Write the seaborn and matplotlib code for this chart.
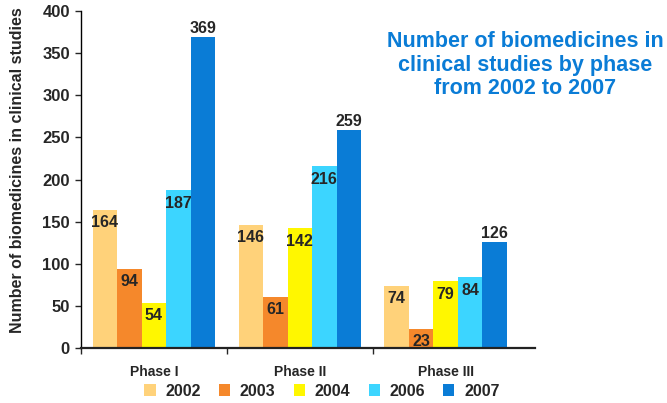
import seaborn as sns
import pandas as pd
import matplotlib.pyplot as plt

phases = ['Phase I', 'Phase II', 'Phase III']
years = ['2002', '2003', '2004', '2006', '2007']
v2002 = [164, 146, 74]
v2003 = [94, 61, 23]
v2004 = [54, 142, 79]
v2006 = [187, 216, 84]
v2007 = [369, 259, 126]
colors = ['#FFD27A', '#F5882B', '#FFF700', '#3CD5FF', '#0A7CD6']

rows = []
for yr, vals in zip(years, [v2002, v2003, v2004, v2006, v2007]):
    for ph, v in zip(phases, vals):
        rows.append({'phase': ph, 'year': yr, 'count': v})
df = pd.DataFrame(rows)

sns.set_style('white')
plt.rcParams['font.family'] = ['Liberation Sans', 'DejaVu Sans']
plt.rcParams['font.weight'] = 'bold'

fig = plt.figure(figsize=(6.67, 4.03), dpi=100)
ax = fig.add_axes([81/667, 1-348/403, 454/667, 337/403])

sns.barplot(data=df, x='phase', y='count', hue='year', order=phases, hue_order=years,
            palette=colors, width=0.84, gap=0, saturation=1, linewidth=0, ax=ax)

# value labels: 2007 above the bar, others just inside the top
for i, cont in enumerate(ax.containers):
    for bar in cont:
        h = bar.get_height()
        x = bar.get_x() + bar.get_width()/2
        if years[i] == '2007':
            ax.annotate(f'{int(h)}', (x, h), xytext=(0, 1), textcoords='offset pixels',
                        ha='center', va='bottom', fontsize=11.5, fontweight='bold')
        else:
            ax.annotate(f'{int(h)}', (x, h), xytext=(0, -13), textcoords='offset pixels',
                        ha='center', va='center', fontsize=11.5, fontweight='bold')

ax.set_ylim(0, 400)
ax.set_yticks(range(0, 401, 50))
ax.set_xlim(-0.5, 2.613)
ax.set_xlabel('')
ax.set_ylabel('Number of biomedicines in clinical studies', fontsize=11.5, fontweight='bold')
ax.yaxis.set_label_coords(-0.123, 0.528)
ax.tick_params(axis='y', labelsize=12, length=4, width=1, direction='out', left=True, pad=4)
ax.tick_params(axis='x', which='major', length=0, labelsize=10, pad=12)
ax.set_xticks([-0.5, 0.5, 1.5], minor=True)
ax.tick_params(axis='x', which='minor', length=4, width=1, direction='out', bottom=True)
for lab in ax.get_xticklabels() + ax.get_yticklabels():
    lab.set_fontweight('bold')

sns.despine(ax=ax)
ax.spines['left'].set_color('black')
ax.spines['left'].set_linewidth(1)
ax.spines['bottom'].set_color('#222222')
ax.spines['bottom'].set_linewidth(1.6)

sns.move_legend(ax, 'center', bbox_to_anchor=(322/667, 1-391/403), bbox_transform=fig.transFigure,
                ncol=5, frameon=False, title=None, prop={'size': 11.5, 'weight': 'bold'},
                handlelength=0.7, handleheight=0.7, columnspacing=1.15, handletextpad=0.6)

fig.text(525/667, 1-65/403, 'Number of biomedicines in\nclinical studies by phase\nfrom 2002 to 2007',
         ha='center', va='center', color='#0A7CD6', fontsize=15.5, fontweight='bold', linespacing=1.15)

fig.savefig('out.png', dpi=100)
